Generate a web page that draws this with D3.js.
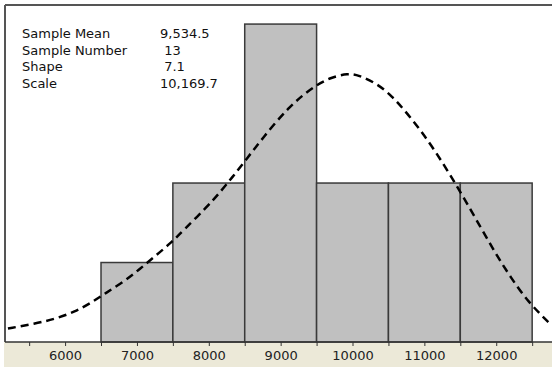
<!DOCTYPE html>
<html>
<head>
<meta charset="utf-8">
<script src="https://cdn.jsdelivr.net/npm/d3@7"></script>
<style>
  body { margin: 0; background: #fff; }
  text { font-family: "DejaVu Sans", sans-serif; }
</style>
</head>
<body>
<div id="chart"></div>
<script>
// histogram data (bin centers and counts)
var binCenters = [7000, 8000, 9000, 10000, 11000, 12000];
var counts = [1, 2, 4, 2, 2, 2];
var binWidth = 1000;

// fitted curve (value, height in count units)
var curveX = [5205, 5581, 5859, 6138, 6375, 6556, 6834, 7043, 7252, 7489, 7642, 7976, 8171, 8324, 8464, 8617, 8756, 8937, 9118, 9299, 9494, 9700, 9940, 10079, 10344, 10553, 10720, 10943, 11152, 11361, 11570, 11779, 11987, 12196, 12447, 12726];
var curveY = [0.17, 0.23, 0.29, 0.38, 0.50, 0.61, 0.77, 0.92, 1.08, 1.26, 1.40, 1.70, 1.90, 2.07, 2.23, 2.41, 2.57, 2.77, 2.95, 3.10, 3.23, 3.33, 3.38, 3.36, 3.25, 3.09, 2.92, 2.67, 2.40, 2.10, 1.78, 1.45, 1.12, 0.82, 0.50, 0.25];

var tickValues = [6000, 7000, 8000, 9000, 10000, 11000, 12000];
var minorTicks = [5500, 6000, 6500, 7000, 7500, 8000, 8500, 9000, 9500, 10000, 10500, 11000, 11500, 12000, 12500];

var statLabels = ["Sample Mean", "Sample Number", "Shape", "Scale"];
var statValues = ["9,534.5", " 13", " 7.1", "10,169.7"];

var width = 552;
var height = 367;
var plot = { left: 5, top: 5, bottom: 342 };

var svg = d3.select('#chart')
    .append('svg')
    .attr('width', width)
    .attr('height', height);

// axis strip background
svg.append('rect')
    .attr('x', 4).attr('y', plot.bottom)
    .attr('width', width - 4).attr('height', height - plot.bottom)
    .attr('fill', '#ece9d8');

var x = d3.scaleLinear()
    .domain([5150, 12790])
    .range([4, 553]);
var y = d3.scaleLinear()
    .domain([0, 4.24])
    .range([plot.bottom, plot.top]);

// bars
svg.append('g')
    .selectAll('rect')
    .data(binCenters)
    .enter()
    .append('rect')
    .attr('x', d => x(d - binWidth / 2))
    .attr('y', (d, i) => y(counts[i]))
    .attr('width', d => x(d + binWidth / 2) - x(d - binWidth / 2))
    .attr('height', (d, i) => y(0) - y(counts[i]))
    .attr('fill', '#c0c0c0')
    .attr('stroke', '#3a3a3a')
    .attr('stroke-width', 1.5);

// fitted curve
var pts = curveX.map((v, i) => [v, curveY[i]]);
var line = d3.line()
    .x(d => x(d[0]))
    .y(d => y(d[1]))
    .curve(d3.curveBasis);
svg.append('path')
    .datum(pts)
    .attr('d', line)
    .attr('fill', 'none')
    .attr('stroke', '#000')
    .attr('stroke-width', 2.5)
    .attr('stroke-dasharray', '8,5');

// frame: top and left borders
svg.append('line')
    .attr('x1', plot.left).attr('x2', width)
    .attr('y1', plot.top).attr('y2', plot.top)
    .attr('stroke', '#555').attr('stroke-width', 2);
svg.append('line')
    .attr('x1', plot.left).attr('x2', plot.left)
    .attr('y1', plot.top).attr('y2', plot.bottom)
    .attr('stroke', '#555').attr('stroke-width', 2);

// x axis
var xAxis = d3.axisBottom(x)
    .tickValues(minorTicks)
    .tickSize(4)
    .tickFormat(d => tickValues.indexOf(d) >= 0 ? d : '');
var gX = svg.append('g')
    .attr('transform', 'translate(0,' + plot.bottom + ')')
    .call(xAxis);
gX.select('.domain')
    .attr('d', 'M' + plot.left + ',0H' + width)
    .attr('stroke', '#333')
    .attr('stroke-width', 1.5);
gX.selectAll('.tick line').attr('stroke', '#333');
gX.selectAll('.tick text')
    .attr('y', 9)
    .attr('font-family', '"Liberation Sans", Arial, sans-serif')
    .attr('font-size', 13)
    .attr('fill', '#222');

// statistics block
var stats = svg.append('g')
    .attr('font-size', 13)
    .attr('fill', '#111');
stats.selectAll('text.lab')
    .data(statLabels)
    .enter()
    .append('text')
    .attr('class', 'lab')
    .attr('x', 22)
    .attr('y', (d, i) => 38 + i * 16.5)
    .text(d => d);
stats.selectAll('text.val')
    .data(statValues)
    .enter()
    .append('text')
    .attr('class', 'val')
    .attr('x', 160)
    .attr('y', (d, i) => 38 + i * 16.5)
    .attr('xml:space', 'preserve')
    .style('white-space', 'pre')
    .text(d => d);
</script>
</body>
</html>
